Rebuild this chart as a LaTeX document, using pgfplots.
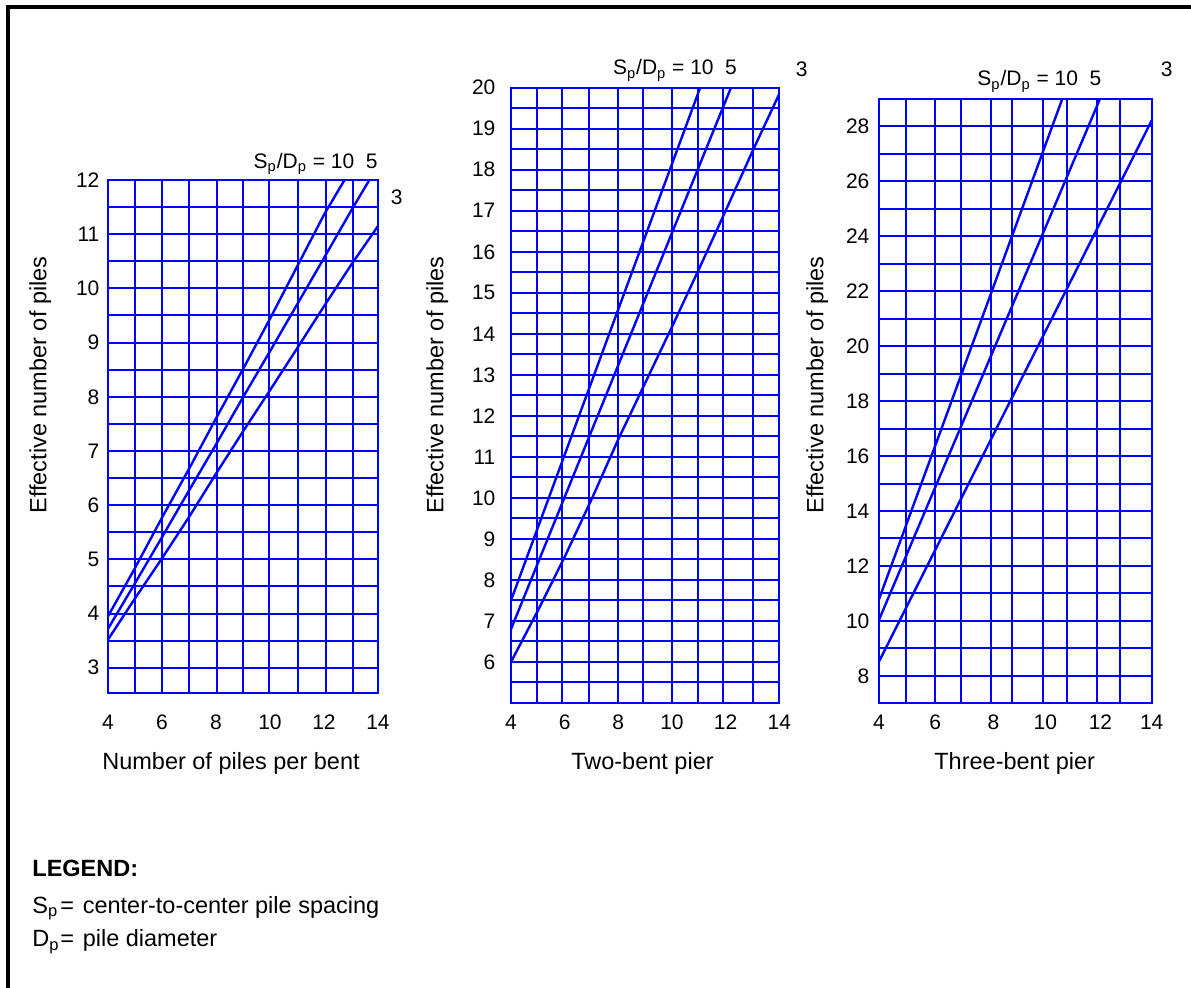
\documentclass[border=0pt]{standalone}
\usepackage{fontspec}
\setmainfont{Liberation Sans}
\usepackage{pgfplots}
\pgfplotsset{compat=1.18}

\pgfplotsset{
  chartstyle/.style={
    scale only axis,
    anchor=south west,
    axis line style={blue, line width=1pt},
    xmajorgrids=false, ymajorgrids=false,
    xminorgrids=true, yminorgrids=true,
    minor grid style={blue, line width=1pt},
    major tick length=0pt, minor tick length=0pt,
    /pgf/number format/assume math mode=true,
    ticklabel style={font=\fontsize{10.5}{12}\selectfont},
    xticklabel style={anchor=base, inner sep=0pt},
    yticklabel style={anchor=east, inner sep=0pt},
    xmin=4, xmax=14,
  },
  curve/.style={blue, line width=1.2pt, mark=none},
}
\newcommand{\lab}{\fontsize{11.75}{14}\selectfont}
\newcommand{\tk}{\fontsize{10.5}{12}\selectfont}

\begin{document}
\begin{tikzpicture}
\path[use as bounding box] (0pt,0pt) rectangle (595.5pt,-494pt);
\draw[black, line width=2pt] (4pt,-494pt) -- (4pt,-3.5pt) -- (595.5pt,-3.5pt);

% Panel 1
\begin{axis}[chartstyle, at={(54pt,-346.35pt)}, width=135pt, height=256.35pt,
  ymin=2.54, ymax=12,
  xtick={4,6,...,14}, ytick={3,...,12},
  minor xtick={5,6,6.99,8.04,9,9.96,11.03,12.07,13.07},
  minor ytick={3,3.5,...,11.5},
  xticklabel style={yshift=-18.3pt}, yticklabel style={xshift=-4.1pt}]
\addplot[curve] coordinates {(4,3.95)(5,4.84)(6,5.77)(7,6.67)(8,7.6)(9,8.51)(10,9.44)(11,10.4)(12,11.36)(12.76,12)};
\addplot[curve] coordinates {(4,3.72)(5,4.56)(6,5.41)(7,6.27)(8,7.12)(9,7.99)(10,8.84)(11,9.7)(12,10.56)(13,11.43)(13.68,12)};
\addplot[curve] coordinates {(4,3.52)(5,4.28)(6,5.02)(7,5.78)(8,6.58)(9,7.36)(10,8.12)(11,8.89)(12,9.67)(13,10.43)(14,11.15)};
\end{axis}

% Panel 2
\begin{axis}[chartstyle, at={(255.5pt,-351.5pt)}, width=134.15pt, height=307.65pt,
  ymin=5, ymax=20,
  xtick={4,6,...,14}, ytick={6,...,20},
  minor xtick={4.96,5.91,6.91,8,8.92,10,10.96,11.91,13.03},
  minor ytick={5.5,6,...,19.5},
  xticklabel style={yshift=-13.15pt}, yticklabel style={xshift=-7.6pt}]
\addplot[curve] coordinates {(4,7.5)(6,11.05)(8,14.6)(10,18.14)(11.05,20)};
\addplot[curve] coordinates {(4,6.8)(6,10.02)(8,13.24)(10,16.46)(12,19.68)(12.2,20)};
\addplot[curve] coordinates {(4,6.0)(5,7.25)(6,8.56)(7,9.96)(8,11.43)(9,12.8)(10,14.17)(11,15.57)(12,17.0)(13,18.45)(14,19.85)};
\end{axis}

% Panel 3
\begin{axis}[chartstyle, at={(439.5pt,-351.65pt)}, width=136.35pt, height=302.15pt,
  ymin=7, ymax=29,
  xtick={4,6.06,8.2,10.1,12.12,14}, xticklabels={4,6,8,10,12,14},
  ytick={8,10,...,28},
  minor xtick={4.99,6.07,6.99,8.12,8.87,10,10.9,12.01,12.82},
  minor ytick={8,...,28},
  xticklabel style={yshift=-13.15pt}, yticklabel style={xshift=-4.6pt}]
\addplot[curve] coordinates {(4,10.79)(6,16.21)(8,21.63)(10,27.05)(10.72,29)};
\addplot[curve] coordinates {(4,10.04)(6,14.72)(8,19.4)(10,24.08)(12,28.76)(12.1,29)};
\addplot[curve] coordinates {(4,8.52)(6,12.46)(8,16.4)(10,20.34)(12,24.28)(14,28.22)};
\end{axis}

% axis titles
\node[rotate=90, anchor=base, font=\lab] at (23.25pt,-192.5pt) {Effective number of piles};
\node[rotate=90, anchor=base, font=\lab] at (221.65pt,-192.5pt) {Effective number of piles};
\node[rotate=90, anchor=base, font=\lab] at (411.65pt,-192.5pt) {Effective number of piles};
\node[anchor=base, font=\lab] at (115.5pt,-385pt) {Number of piles per bent};
\node[anchor=base, font=\lab] at (321.25pt,-385pt) {Two-bent pier};
\node[anchor=base, font=\lab] at (507.35pt,-385pt) {Three-bent pier};

% curve annotations
\node[anchor=base east, inner sep=0pt, font=\tk] at (189pt,-84.15pt) {S\textsubscript{p}/D\textsubscript{p} = 10\hspace{0.55em}5};
\node[anchor=base, inner sep=0pt, font=\tk] at (198.35pt,-102.5pt) {3};
\node[anchor=base east, inner sep=0pt, font=\tk] at (368.65pt,-37.5pt) {S\textsubscript{p}/D\textsubscript{p} = 10\hspace{0.55em}5};
\node[anchor=base, inner sep=0pt, font=\tk] at (400.85pt,-38.35pt) {3};
\node[anchor=base east, inner sep=0pt, font=\tk] at (550.85pt,-43pt) {S\textsubscript{p}/D\textsubscript{p} = 10\hspace{0.55em}5};
\node[anchor=base, inner sep=0pt, font=\tk] at (583.35pt,-38.35pt) {3};

% legend
\node[anchor=base west, inner sep=0pt, font=\lab\bfseries] at (16pt,-438.3pt) {LEGEND:};
\node[anchor=base west, inner sep=0pt, font=\lab] at (16pt,-456.65pt) {S\textsubscript{p}};
\node[anchor=base west, inner sep=0pt, font=\lab] at (30pt,-456.65pt) {=};
\node[anchor=base west, inner sep=0pt, font=\lab] at (41.2pt,-456.65pt) {center-to-center pile spacing};
\node[anchor=base west, inner sep=0pt, font=\lab] at (16pt,-473.35pt) {D\textsubscript{p}};
\node[anchor=base west, inner sep=0pt, font=\lab] at (30pt,-473.35pt) {=};
\node[anchor=base west, inner sep=0pt, font=\lab] at (41.2pt,-473.35pt) {pile diameter};
\end{tikzpicture}
\end{document}
